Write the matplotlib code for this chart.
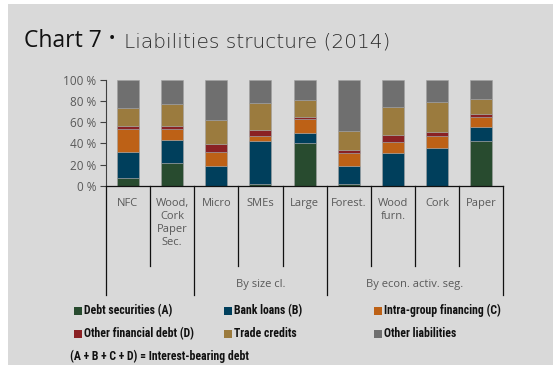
import matplotlib
matplotlib.use('Agg')
import matplotlib.pyplot as plt
from matplotlib.patches import Rectangle
import numpy as np

plt.rcParams['font.family'] = ['Open Sans', 'DejaVu Sans']

categories = ['NFC', 'Wood,\nCork\nPaper\nSec.', 'Micro', 'SMEs', 'Large',
              'Forest.', 'Wood\nfurn.', 'Cork', 'Paper']
groups = [('By size cl.', 2, 4), ('By econ. activ. seg.', 5, 8)]

# shares of total liabilities, %
debt_securities = [7.0, 21.1, 0.0, 1.3, 40.1, 1.3, 0.0, 0.0, 42.6]
bank_loans = [25.3, 22.1, 18.9, 41.3, 10.1, 17.0, 31.2, 35.3, 13.2]
intra_group = [21.1, 10.1, 13.0, 4.4, 13.2, 12.6, 10.4, 11.7, 9.2]
other_fin_debt = [3.5, 3.5, 7.5, 5.7, 1.6, 2.9, 6.7, 4.1, 2.5]
trade_credits = [16.4, 20.5, 22.7, 25.8, 16.1, 17.9, 25.8, 28.4, 14.8]
other_liab = [26.8, 22.7, 37.9, 21.5, 18.9, 48.3, 25.9, 20.5, 17.7]

series = [debt_securities, bank_loans, intra_group, other_fin_debt, trade_credits, other_liab]
labels = ['Debt securities (A)', 'Bank loans (B)', 'Intra-group financing (C)',
          'Other financial debt (D)', 'Trade credits', 'Other liabilities']
colors = ['#284b2f', '#003f5c', '#bd6116', '#8a2124', '#9b7b3e', '#6f6f6f']

bg = '#d9d9d9'
txt = '#595959'
W, H = 553.0, 367.0

fig = plt.figure(figsize=(5.53, 3.67), dpi=100)
fig.patch.set_facecolor('white')
fig.patches.append(Rectangle((8 / W, 1 - 365 / H), 545 / W, 361 / H, transform=fig.transFigure,
                             facecolor=bg, edgecolor='none', zorder=-10))

fig.text(24 / W, 1 - 47.3 / H, 'Chart 7', fontsize=16.5, color='#111111', va='baseline')
fig.text(111.7 / W, 1 - 39.5 / H, '·', fontsize=16, fontweight='bold', color='#111111',
         ha='center', va='center')
fig.text(124 / W, 1 - 47.3 / H, 'Liabilities structure (2014)', fontsize=14.5,
         family=['DejaVu Sans'], fontweight='light', color='#2a2a2a', va='baseline')

ax = fig.add_axes([105.8 / W, 1 - 185.7 / H, 397.6 / W, 105.7 / H])
ax.set_facecolor(bg)
x = np.arange(len(categories))
bottom = np.zeros(len(categories))
for vals, c in zip(series, colors):
    ax.bar(x, vals, width=0.5, bottom=bottom, color=c, edgecolor='#a0a0a0', linewidth=0.4)
    bottom += np.array(vals)

ax.set_xlim(-0.5, len(categories) - 0.5)
ax.set_ylim(0, 100)
ax.set_yticks(range(0, 101, 20))
ax.set_yticklabels(['%d %%' % v for v in range(0, 101, 20)])
ax.tick_params(axis='y', length=4, width=0.8, colors='#404040', labelcolor=txt,
               labelsize=8.5, pad=3)
ax.set_xticks([])
for s in ['top', 'right']:
    ax.spines[s].set_visible(False)
ax.spines['left'].set_color('#404040')
ax.spines['left'].set_linewidth(0.8)
ax.spines['bottom'].set_color('#111111')
ax.spines['bottom'].set_linewidth(0.9)

trans = ax.get_xaxis_transform()
group_edges = {-0.5, 1.5, 4.5, 8.5}
for b in np.arange(-0.5, len(categories), 1.0):
    low = -1.03 if b in group_edges else -0.757
    ax.plot([b, b], [0, low], transform=trans, color='#111111', lw=0.9, clip_on=False)

for i, name in enumerate(categories):
    ax.text(i, -0.12, name, transform=trans, ha='center', va='top', fontsize=8,
            color=txt, linespacing=1.25)
for name, a, b in groups:
    ax.text((a + b) / 2, -0.935, name, transform=trans, ha='center', va='center',
            fontsize=8, color=txt)

# legend in three columns
legend_font = ['Liberation Sans Narrow', 'DejaVu Sans Condensed', 'Roboto Condensed', 'Roboto']
for k, (lab, c) in enumerate(zip(labels, colors)):
    col, row = k % 3, k // 3
    lx = 74 + 150 * col
    ly = 310.5 + 23 * row
    fig.patches.append(Rectangle((lx / W, 1 - (ly + 4) / H), 8 / W, 8 / H,
                                 transform=fig.transFigure, facecolor=c, edgecolor='none'))
    fig.text((lx + 10) / W, 1 - ly / H, lab, fontsize=8.5, fontweight='bold',
             family=legend_font, color='#111111', va='center')
fig.text(70 / W, 1 - 356.5 / H, '(A + B + C + D) = Interest-bearing debt', fontsize=8.5,
         fontweight='bold', family=legend_font, color='#111111', va='center')

fig.savefig('out.png', dpi=100, facecolor=fig.get_facecolor())
